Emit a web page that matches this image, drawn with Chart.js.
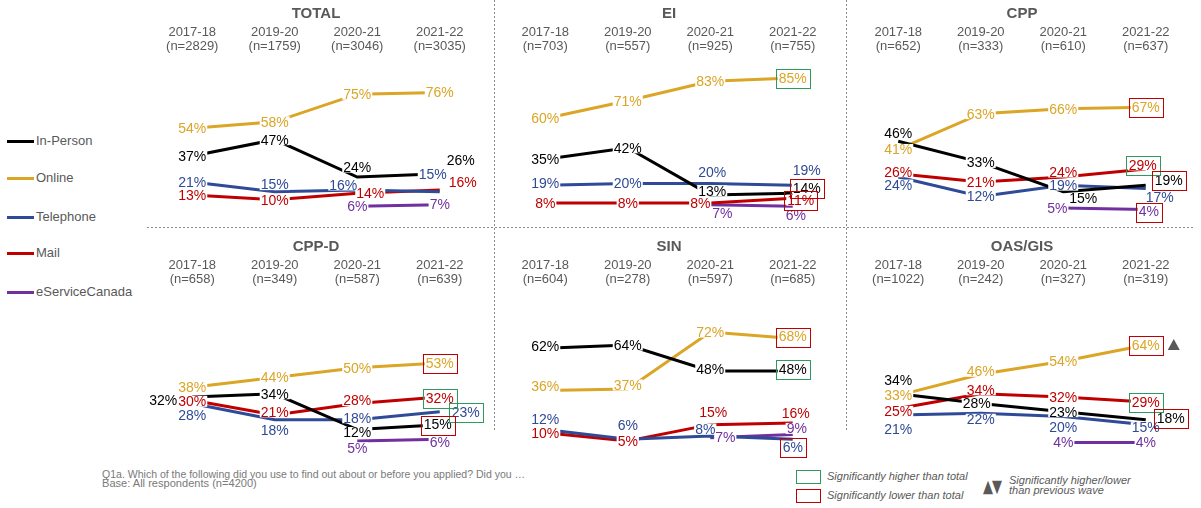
<!DOCTYPE html>
<html>
<head>
<meta charset="utf-8">
<script src="https://cdn.jsdelivr.net/npm/chart.js@4.4.0/dist/chart.umd.min.js"></script>
<style>
  html,body{margin:0;padding:0;background:#fff;overflow:hidden;}
  #wrap{position:relative;width:1201px;height:508px;background:#fff;font-family:"Liberation Sans",Arial,sans-serif;}
  canvas{position:absolute;}
  .vdash{position:absolute;width:1px;background:repeating-linear-gradient(to bottom,#8a8a8a 0 2px,transparent 2px 4px);}
  .hdash{position:absolute;height:1px;background:repeating-linear-gradient(to right,#8a8a8a 0 2px,transparent 2px 4px);}
  .lg{position:absolute;left:7px;width:27px;height:3px;}
  .lgt{position:absolute;left:36px;font-size:13px;color:#595959;line-height:15px;white-space:nowrap;}
  .foot{position:absolute;left:102px;font-size:11px;color:#7a7a7a;white-space:nowrap;transform-origin:0 50%;line-height:11px;}
  .sigbox{position:absolute;left:796px;width:23px;height:12px;border:1px solid;}
  .sigt{position:absolute;font-size:11px;font-style:italic;color:#595959;white-space:nowrap;line-height:11px;}
  .tri{position:absolute;left:983px;top:479px;font-family:"DejaVu Sans",sans-serif;font-size:13px;line-height:13px;color:#595959;letter-spacing:-1px;white-space:nowrap;transform:scale(1,1.35);transform-origin:0 50%;}
</style>
</head>
<body>
<div id="wrap">
  <div class="vdash" style="left:494px;top:0;height:432px"></div>
  <div class="vdash" style="left:846px;top:0;height:432px"></div>
  <div class="hdash" style="left:147px;top:227px;width:1046px"></div>
  <div id="legend"></div>
  <div class="foot" id="f1" style="top:469px">Q1a. Which of the following did you use to find out about or before you applied? Did you …</div>
  <div class="foot" id="f2" style="top:478px">Base: All respondents (n=4200)</div>
  <div class="sigbox" style="top:470px;border-color:#2e9b5e"></div>
  <div class="sigbox" style="top:489px;border-color:#c00000"></div>
  <div class="sigt" style="left:827px;top:471px">Significantly higher than total</div>
  <div class="sigt" style="left:827px;top:490px">Significantly lower than total</div>
  <div class="tri">▲▼</div>
  <div class="sigt" style="left:1009px;top:475px;line-height:10px">Significantly higher/lower<br>than previous wave</div>
</div>
<script>
// ---------- DATA ----------
const years = ['2017-18', '2019-20', '2020-21', '2021-22'];
const seriesNames = ['In-Person', 'Online', 'Telephone', 'Mail', 'eServiceCanada'];
const panelTitles = ['TOTAL', 'EI', 'CPP', 'CPP-D', 'SIN', 'OAS/GIS'];

const nTotal = [2829, 1759, 3046, 3035];
const nEI    = [703, 557, 925, 755];
const nCPP   = [652, 333, 610, 637];
const nCPPD  = [658, 349, 587, 639];
const nSIN   = [604, 278, 597, 685];
const nOAS   = [1022, 242, 327, 319];

// series order: In-Person, Online, Telephone, Mail, eServiceCanada
const totalValues = [[37, 47, 24, 26], [54, 58, 75, 76], [21, 15, 16, 15], [13, 10, 14, 16], [null, null, 6, 7]];
const eiValues    = [[35, 42, 13, 14], [60, 71, 83, 85], [19, 20, 20, 19], [8, 8, 8, 11],    [null, null, 7, 6]];
const cppValues   = [[46, 33, 15, 19], [41, 63, 66, 67], [24, 12, 19, 17], [26, 21, 24, 29], [null, null, 5, 4]];
const cppdValues  = [[32, 34, 12, 15], [38, 44, 50, 53], [28, 18, 18, 23], [30, 21, 28, 32], [null, null, 5, 6]];
const sinValues   = [[62, 64, 48, 48], [36, 37, 72, 68], [12, 6, 8, 6],    [10, 5, 15, 16],  [null, null, 7, 9]];
const oasValues   = [[34, 28, 23, 18], [33, 46, 54, 64], [21, 22, 20, 15], [25, 34, 32, 29], [null, null, 4, 4]];

// significance vs total: [seriesIndex, yearIndex]
const higherThanTotal = {
  'TOTAL': [], 'EI': [[1, 3]], 'CPP': [[3, 3]], 'CPP-D': [[3, 3], [2, 3]], 'SIN': [[0, 3]], 'OAS/GIS': [[3, 3]]
};
const lowerThanTotal = {
  'TOTAL': [], 'EI': [[0, 3], [3, 3]], 'CPP': [[1, 3], [0, 3], [4, 3]], 'CPP-D': [[1, 3], [0, 3]],
  'SIN': [[1, 3], [2, 3]], 'OAS/GIS': [[1, 3], [0, 3]]
};
// significant change vs previous wave: [seriesIndex, yearIndex, direction]
const changeVsPrevious = { 'OAS/GIS': [[1, 3, 'up']] };

// ---------- STYLE / POSITIONS ----------
const seriesColors = ['#000000', '#DBA526', '#2F4A96', '#C00000', '#7030A0'];
const chartLefts = [151, 504, 857];
const chartTops = [0, 233];
const plotWidth = 330, padL = 35, padR = 25, canvasH = 226, plotBottom = 216;

// label nudges [dx, dy] per series per year (pixels)
const labelOffsets = {
  'TOTAL': [[[0,0],[0,0],[0,-10],[21,-14]], [[0,0],[0,0],[0,0],[0,0]], [[0,0],[0,-7],[-14,-5],[-7,-17]], [[0,0],[0,0],[13,0],[23,-8]], [null,null,[0,0],[0,0]]],
  'EI':    [[[0,0],[0,0],[2,-4],[14,-5]], [[0,0],[0,0],[0,0],[0,0]], [[0,-2],[0,0],[2,-11],[14,-15]], [[0,0],[0,0],[-10,0],[8,2]], [null,null,[12,9],[3,9]]],
  'CPP':   [[[0,-8],[0,0],[20,7],[23,-5]], [[0,0],[0,0],[0,0],[0,0]], [[0,8],[0,0],[0,0],[14,9]], [[0,-2],[0,0],[0,-5],[-3,-4]], [null,null,[-6,0],[3,2]]],
  'CPP-D': [[[-29,3],[0,0],[0,3],[-2,0]], [[0,0],[0,0],[0,0],[0,0]], [[0,12],[0,10],[0,-2],[26,0]], [[0,1],[0,-3],[0,-3],[0,1]], [null,null,[0,7],[0,3]]],
  'SIN':   [[[0,-2],[0,0],[0,-2],[0,-2]], [[0,-4],[0,-4],[0,0],[0,-2]], [[0,-10],[0,-14],[-5,-7],[0,8]], [[0,0],[0,0],[3,-12],[3,-10]], [null,null,[15,0],[4,-6]]],
  'OAS/GIS': [[[0,-14],[-4,0],[0,0],[25,-2]], [[0,0],[0,-3],[0,0],[0,0]], [[0,14],[0,6],[0,11],[0,3]], [[0,3],[0,-4],[0,0],[0,0]], [null,null,[0,0],[0,0]]]
};

const FONT = '"Liberation Sans", Arial, sans-serif';

// ---------- LEGEND ----------
const legendTops = [141, 178, 217, 253, 292];
const legendEl = document.getElementById('legend');
seriesNames.forEach((name, i) => {
  const l = document.createElement('div');
  l.className = 'lg'; l.style.top = (legendTops[i] - 1) + 'px'; l.style.background = seriesColors[i];
  legendEl.appendChild(l);
  const t = document.createElement('div');
  t.className = 'lgt'; t.style.top = (legendTops[i] - 8) + 'px'; t.textContent = name;
  legendEl.appendChild(t);
});

// footnote narrowing
function fitWidth(id, w) {
  const el = document.getElementById(id);
  el.style.transform = 'scaleX(' + (w / el.offsetWidth) + ')';
}
fitWidth('f1', 423);
fitWidth('f2', 155);

// ---------- LABEL PLUGIN ----------
const labelPlugin = {
  id: 'pctLabels',
  afterDatasetsDraw(chart, args, opts) {
    const ctx = chart.ctx;
    const title = opts.title;
    const offs = labelOffsets[title];
    ctx.save();
    ctx.font = '14px ' + FONT;
    ctx.textAlign = 'center';
    ctx.textBaseline = 'middle';
    const pos = {};
    chart.data.datasets.forEach((ds, si) => {
      const meta = chart.getDatasetMeta(si);
      ds.data.forEach((v, i) => {
        if (v === null || v === undefined) return;
        const pt = meta.data[i];
        const o = (offs[si] && offs[si][i]) || [0, 0];
        const x = pt.x + o[0], y = pt.y + o[1];
        const txt = v + '%';
        const w = ctx.measureText(txt).width;
        ctx.fillStyle = '#ffffff';
        ctx.fillRect(x - w / 2 - 1, y - 5.5, w + 2, 11);
        pos[si + '_' + i] = {x, y, w};
      });
    });
    chart.data.datasets.forEach((ds, si) => {
      ds.data.forEach((v, i) => {
        if (v === null || v === undefined) return;
        const p = pos[si + '_' + i];
        ctx.fillStyle = seriesColors[si];
        ctx.fillText(v + '%', p.x, p.y + 1);
      });
    });
    ctx.lineWidth = 1;
    const drawBox = (list, color) => {
      list.forEach(([si, i]) => {
        const p = pos[si + '_' + i];
        if (!p) return;
        ctx.strokeStyle = color;
        ctx.strokeRect(Math.round(p.x - p.w / 2 - 3) + 0.5, Math.round(p.y - 9) + 0.5, Math.round(p.w + 6), 19);
      });
    };
    drawBox(higherThanTotal[title] || [], '#2e9b5e');
    drawBox(lowerThanTotal[title] || [], '#c00000');
    (changeVsPrevious[title] || []).forEach(([si, i, dir]) => {
      const p = pos[si + '_' + i];
      if (!p) return;
      const cx = p.x + p.w / 2 + 14, cy = p.y;
      ctx.fillStyle = '#595959';
      ctx.beginPath();
      if (dir === 'up') { ctx.moveTo(cx - 6, cy + 5); ctx.lineTo(cx + 6, cy + 5); ctx.lineTo(cx, cy - 6); }
      else { ctx.moveTo(cx - 6, cy - 5); ctx.lineTo(cx + 6, cy - 5); ctx.lineTo(cx, cy + 6); }
      ctx.closePath(); ctx.fill();
    });
    ctx.restore();
  }
};

// ---------- PANELS ----------
const panelValues = [totalValues, eiValues, cppValues, cppdValues, sinValues, oasValues];
const panelN = [nTotal, nEI, nCPP, nCPPD, nSIN, nOAS];
const wrap = document.getElementById('wrap');

panelTitles.forEach((title, pi) => {
  const col = pi % 3, row = Math.floor(pi / 3);
  const cv = document.createElement('canvas');
  const cw = plotWidth + padL + padR;
  cv.width = cw; cv.height = canvasH;
  cv.style.left = (chartLefts[col] - padL) + 'px';
  cv.style.top = chartTops[row] + 'px';
  cv.style.width = cw + 'px'; cv.style.height = canvasH + 'px';
  wrap.appendChild(cv);

  const labels = years.map((y, i) => [y, '(n=' + panelN[pi][i] + ')']);
  const datasets = panelValues[pi].map((vals, si) => ({
    label: seriesNames[si],
    data: vals,
    borderColor: seriesColors[si],
    backgroundColor: seriesColors[si],
    borderWidth: 3,
    pointRadius: 0,
    tension: 0,
    spanGaps: false
  }));

  new Chart(cv.getContext('2d'), {
    type: 'line',
    data: { labels, datasets },
    plugins: [labelPlugin],
    options: {
      responsive: false,
      animation: false,
      devicePixelRatio: 1,
      layout: { padding: { left: padL, right: padR, top: 0, bottom: canvasH - plotBottom } },
      plugins: {
        legend: { display: false },
        tooltip: { enabled: false },
        title: {
          display: true, text: title, color: '#595959',
          font: { size: 15, weight: 'bold', family: FONT },
          padding: { top: 5, bottom: 2 }
        },
        pctLabels: { title }
      },
      scales: {
        x: {
          type: 'category', position: 'top', offset: true,
          grid: { display: false, drawTicks: false },
          border: { display: false },
          ticks: { color: '#595959', font: { size: 13, family: FONT, lineHeight: 1.1 }, padding: 0, maxRotation: 0, autoSkip: false }
        },
        y: { display: false, min: 0, max: 100 }
      }
    }
  });
});
</script>
</body>
</html>
